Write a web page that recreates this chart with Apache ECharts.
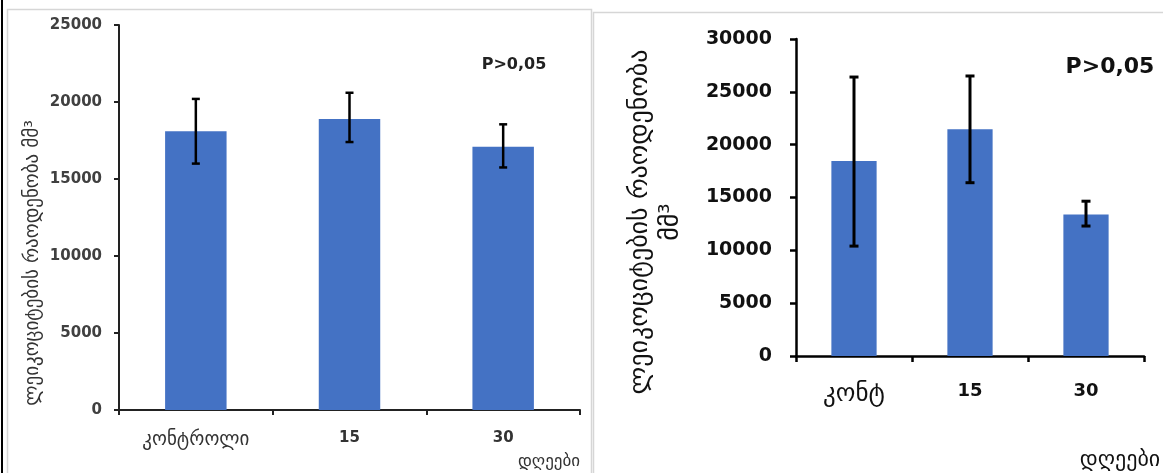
<!DOCTYPE html>
<html><head><meta charset="utf-8">
<script src="https://cdn.jsdelivr.net/npm/echarts@6/dist/echarts.min.js"></script>
<style>html,body{margin:0;padding:0;background:#fff}#c{width:1163px;height:473px}</style>
</head><body><div id="c"></div>
<script>
// Left panel
const catsL = ['კონტროლი', '15', '30'];
const valsL = [18100, 18900, 17100];
const errLowL = [16000, 17400, 15750];
const errHighL = [20200, 20600, 18550];
const yTicksL = { min: 0, max: 25000, interval: 5000 };
// Right panel
const catsR = ['კონტ', '15', '30'];
const valsR = [18450, 21450, 13400];
const errLowR = [10400, 16400, 12300];
const errHighR = [26400, 26500, 14650];
const yTicksR = { min: 0, max: 30000, interval: 5000 };

const yTitle = 'ლეიკოციტების რაოდენობა მმ³';
const yTitleR = 'ლეიკოციტების რაოდენობა\nმმ³';
const xTitle = 'დღეები';
const pText = 'P>0,05';

const F = 'DejaVu Sans';
const BAR = '#4472C4';

function errData(lo, hi) { return lo.map((l, i) => [i, l, hi[i]]); }
function errRender(capHalf, lw) {
  return function (params, api) {
    const x = api.value(0);
    const lo = api.coord([x, api.value(1)]);
    const hi = api.coord([x, api.value(2)]);
    const st = { stroke: '#000', lineWidth: lw };
    return { type: 'group', children: [
      { type: 'line', shape: { x1: lo[0], y1: lo[1], x2: hi[0], y2: hi[1] }, style: st },
      { type: 'line', shape: { x1: hi[0] - capHalf, y1: hi[1], x2: hi[0] + capHalf, y2: hi[1] }, style: st },
      { type: 'line', shape: { x1: lo[0] - capHalf, y1: lo[1], x2: lo[0] + capHalf, y2: lo[1] }, style: st }
    ]};
  };
}
function catFmt(v) { return /^\d+$/.test(v) ? '{n|' + v + '}' : '{g|' + v + '}'; }

const chart = echarts.init(document.getElementById('c'), null, { renderer: 'canvas' });
chart.setOption({
  backgroundColor: '#fff',
  animation: false,
  textStyle: { fontFamily: F },
  grid: [
    { left: 119, top: 25, width: 461, height: 385 },
    { left: 796, top: 39, width: 348, height: 317 }
  ],
  xAxis: [
    { type: 'category', gridIndex: 0, data: catsL,
      axisLine: { lineStyle: { color: '#222', width: 2 } },
      axisTick: { show: true, length: 5, lineStyle: { color: '#222', width: 2 } },
      axisLabel: { margin: 21, formatter: catFmt,
        rich: { n: { color: '#333', fontSize: 15, fontWeight: 'bold', fontFamily: F },
                g: { color: '#333', fontSize: 19, fontFamily: F } } } },
    { type: 'category', gridIndex: 1, data: catsR,
      axisLine: { lineStyle: { color: '#000', width: 2.5 } },
      axisTick: { show: true, length: 6, lineStyle: { color: '#000', width: 2.5 } },
      axisLabel: { margin: 26, formatter: catFmt,
        rich: { n: { color: '#111', fontSize: 18, fontWeight: 'bold', fontFamily: F },
                g: { color: '#111', fontSize: 25, fontFamily: F } } } }
  ],
  yAxis: [
    { type: 'value', gridIndex: 0, min: yTicksL.min, max: yTicksL.max, interval: yTicksL.interval,
      splitLine: { show: false },
      axisLine: { show: true, lineStyle: { color: '#222', width: 2 } },
      axisTick: { show: true, length: 5, lineStyle: { color: '#222', width: 2 } },
      axisLabel: { color: '#404040', fontSize: 15, fontWeight: 'bold', margin: 17, fontFamily: F, formatter: v => String(v) } },
    { type: 'value', gridIndex: 1, min: yTicksR.min, max: yTicksR.max, interval: yTicksR.interval,
      splitLine: { show: false },
      axisLine: { show: true, lineStyle: { color: '#000', width: 2.5 } },
      axisTick: { show: true, length: 6, lineStyle: { color: '#000', width: 2.5 } },
      axisLabel: { color: '#111', fontSize: 19, fontWeight: 'bold', margin: 24, fontFamily: F, formatter: v => String(v) } }
  ],
  series: [
    { type: 'bar', xAxisIndex: 0, yAxisIndex: 0, data: valsL, barWidth: '40%', itemStyle: { color: BAR } },
    { type: 'custom', xAxisIndex: 0, yAxisIndex: 0, data: errData(errLowL, errHighL), renderItem: errRender(4, 2.5), z: 5 },
    { type: 'bar', xAxisIndex: 1, yAxisIndex: 1, data: valsR, barWidth: '39%', itemStyle: { color: BAR } },
    { type: 'custom', xAxisIndex: 1, yAxisIndex: 1, data: errData(errLowR, errHighR), renderItem: errRender(4.5, 3), z: 5 }
  ],
  graphic: [
    { type: 'line', shape: { x1: 2, y1: 0, x2: 2, y2: 473 }, style: { stroke: '#000', lineWidth: 2 }, silent: true },
    { type: 'rect', shape: { x: 7.5, y: 9.5, width: 584, height: 470 }, style: { fill: 'none', stroke: '#d6d6d6', lineWidth: 1.5 }, silent: true },
    { type: 'rect', shape: { x: 593.5, y: 12.5, width: 580, height: 470 }, style: { fill: 'none', stroke: '#d6d6d6', lineWidth: 1.5 }, silent: true },
    { type: 'text', x: 33, y: 263, rotation: Math.PI / 2, style: { text: yTitle, font: '19px "DejaVu Sans"', fill: '#333', textAlign: 'center', textVerticalAlign: 'middle' } },
    { type: 'text', x: 656, y: 222, rotation: Math.PI / 2, style: { text: yTitleR, font: '26px "DejaVu Sans"', fill: '#111', textAlign: 'center', textVerticalAlign: 'middle', lineHeight: 31 } },
    { type: 'text', x: 514, y: 65, style: { text: pText, font: 'bold 16px "DejaVu Sans"', fill: '#222', textAlign: 'center', textVerticalAlign: 'middle' } },
    { type: 'text', x: 1110, y: 67, style: { text: pText, font: 'bold 22px "DejaVu Sans"', fill: '#111', textAlign: 'center', textVerticalAlign: 'middle' } },
    { type: 'text', x: 549, y: 462, style: { text: xTitle, font: '17px "DejaVu Sans"', fill: '#333', textAlign: 'center', textVerticalAlign: 'middle' } },
    { type: 'text', x: 1120, y: 460, style: { text: xTitle, font: '22px "DejaVu Sans"', fill: '#111', textAlign: 'center', textVerticalAlign: 'middle' } }
  ]
});
</script>
</body></html>
